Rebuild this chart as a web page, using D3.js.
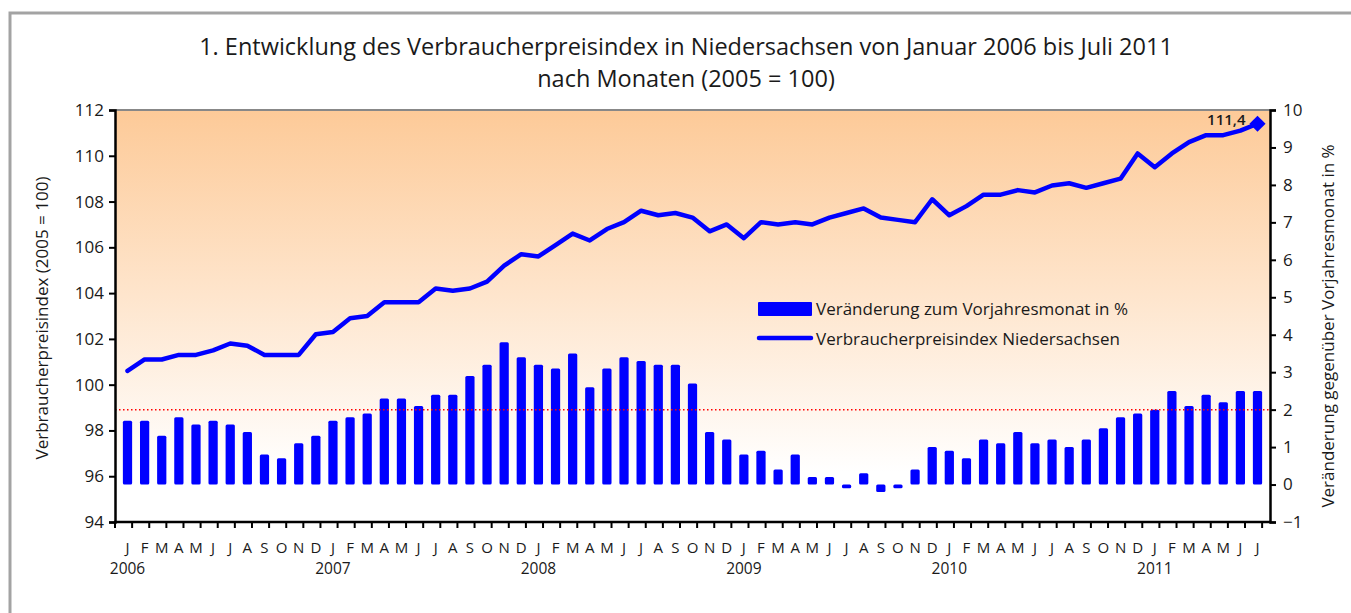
<!DOCTYPE html>
<html>
<head>
<meta charset="utf-8">
<script src="https://cdn.jsdelivr.net/npm/d3@7"></script>
<style>
  body { margin: 0; background: #fff; }
  svg text { font-family: "Open Sans", "Noto Sans", sans-serif; fill: #1a1a1a; }
</style>
</head>
<body>
<div id="chart"></div>
<script>
// Monate Jan 2006 - Jul 2011
var monthLetters = ["J","F","M","A","M","J","J","A","S","O","N","D"];
var years = ["2006","2007","2008","2009","2010","2011"];

// Veraenderung zum Vorjahresmonat in %
var change = [
  1.7, 1.7, 1.3, 1.8, 1.6, 1.7, 1.6, 1.4, 0.8, 0.7, 1.1, 1.3,
  1.7, 1.8, 1.9, 2.3, 2.3, 2.1, 2.4, 2.4, 2.9, 3.2, 3.8, 3.4,
  3.2, 3.1, 3.5, 2.6, 3.1, 3.4, 3.3, 3.2, 3.2, 2.7, 1.4, 1.2,
  0.8, 0.9, 0.4, 0.8, 0.2, 0.2, -0.1, 0.3, -0.2, -0.1, 0.4, 1.0,
  0.9, 0.7, 1.2, 1.1, 1.4, 1.1, 1.2, 1.0, 1.2, 1.5, 1.8, 1.9,
  2.0, 2.5, 2.1, 2.4, 2.2, 2.5, 2.5
];

// Verbraucherpreisindex Niedersachsen (2005 = 100)
var cpi = [
  100.6, 101.1, 101.1, 101.3, 101.3, 101.5, 101.8, 101.7, 101.3, 101.3, 101.3, 102.2,
  102.3, 102.9, 103.0, 103.6, 103.6, 103.6, 104.2, 104.1, 104.2, 104.5, 105.2, 105.7,
  105.6, 106.1, 106.6, 106.3, 106.8, 107.1, 107.6, 107.4, 107.5, 107.3, 106.7, 107.0,
  106.4, 107.1, 107.0, 107.1, 107.0, 107.3, 107.5, 107.7, 107.3, 107.2, 107.1, 108.1,
  107.4, 107.8, 108.3, 108.3, 108.5, 108.4, 108.7, 108.8, 108.6, 108.8, 109.0, 110.1,
  109.5, 110.1, 110.6, 110.9, 110.9, 111.1, 111.4
];

var leftTicks = [94, 96, 98, 100, 102, 104, 106, 108, 110, 112];
var rightTicks = [-1, 0, 1, 2, 3, 4, 5, 6, 7, 8, 9, 10];

var months = change.map(function(d, i) { return i; });

var W = 1351, H = 613;
var margin = {top: 110, right: 81, bottom: 91, left: 115};
var width = W - margin.left - margin.right,
    height = H - margin.top - margin.bottom;

var svgRoot = d3.select("#chart").append("svg")
  .attr("width", W)
  .attr("height", H);

// Rahmen
svgRoot.append("rect")
  .attr("x", 10).attr("y", 13)
  .attr("width", 1400).attr("height", 700)
  .attr("fill", "none")
  .attr("stroke", "#a3a3a3")
  .attr("stroke-width", 3);

// Titel
svgRoot.append("text")
  .attr("x", 686).attr("y", 55)
  .attr("text-anchor", "middle")
  .style("font-size", "23.5px")
  .text("1. Entwicklung des Verbraucherpreisindex in Niedersachsen von Januar 2006 bis Juli 2011");
svgRoot.append("text")
  .attr("x", 686).attr("y", 87)
  .attr("text-anchor", "middle")
  .style("font-size", "23.5px")
  .text("nach Monaten (2005 = 100)");

var defs = svgRoot.append("defs");
var grad = defs.append("linearGradient")
  .attr("id", "bg").attr("x1", 0).attr("y1", 0).attr("x2", 0).attr("y2", 1);
grad.append("stop").attr("offset", "0%").attr("stop-color", "#fdca98");
grad.append("stop").attr("offset", "88%").attr("stop-color", "#ffffff");
grad.append("stop").attr("offset", "100%").attr("stop-color", "#ffffff");

var svg = svgRoot.append("g")
  .attr("transform", "translate(" + margin.left + "," + margin.top + ")");

svg.append("rect")
  .attr("width", width).attr("height", height)
  .attr("fill", "url(#bg)");

// Skalen
var x = d3.scaleBand()
  .domain(months)
  .range([0, width])
  .padding(0.46);

var yLeft = d3.scaleLinear().domain([94, 112]).range([height, 0]);
var yRight = d3.scaleLinear().domain([-1, 10]).range([height, 0]);

// obere Linie
svg.append("line")
  .attr("x1", 0).attr("x2", width)
  .attr("y1", 0).attr("y2", 0)
  .attr("stroke", "#888").attr("stroke-width", 2);

// Balken
svg.selectAll(".bar")
  .data(change)
  .enter()
  .append("rect")
    .attr("class", "bar")
    .attr("x", function(d, i) { return x(i); })
    .attr("y", function(d) { return yRight(Math.max(0, d)); })
    .attr("width", x.bandwidth())
    .attr("height", function(d) { return Math.abs(yRight(d) - yRight(0)); })
    .attr("rx", 1.5)
    .attr("fill", "#0000ff");

// 2%-Linie
svg.append("line")
  .attr("x1", 0).attr("x2", width)
  .attr("y1", yRight(2)).attr("y2", yRight(2))
  .attr("stroke", "#ff0000")
  .attr("stroke-width", 1.5)
  .attr("stroke-dasharray", "1.5,2.5");

// Linie
var line = d3.line()
  .x(function(d, i) { return x(i) + x.bandwidth() / 2; })
  .y(function(d) { return yLeft(d); });

svg.append("path")
  .datum(cpi)
  .attr("fill", "none")
  .attr("stroke", "#0000ff")
  .attr("stroke-width", 4.5)
  .attr("stroke-linejoin", "round")
  .attr("stroke-linecap", "round")
  .attr("d", line);

// letzter Wert
var last = cpi.length - 1;
svg.append("path")
  .attr("d", d3.symbol().type(d3.symbolSquare).size(130)())
  .attr("transform", "translate(" + (x(last) + x.bandwidth() / 2) + "," + yLeft(cpi[last]) + ")rotate(45)")
  .attr("fill", "#0000ff");
svg.append("text")
  .attr("x", x(last) + x.bandwidth() / 2 - 12)
  .attr("y", yLeft(cpi[last]) + 1)
  .attr("text-anchor", "end")
  .style("font-size", "15px")
  .style("font-weight", "600")
  .text(String(cpi[last]).replace(".", ","));

// Achsen
var axL = svg.append("g")
  .call(d3.axisLeft(yLeft).tickValues(leftTicks).tickSize(6).tickPadding(5));
var axR = svg.append("g")
  .attr("transform", "translate(" + width + ",0)")
  .call(d3.axisRight(yRight).tickValues(rightTicks).tickSize(6).tickPadding(7));
[axL, axR].forEach(function(a) {
  a.select(".domain").attr("stroke", "#000").attr("stroke-width", 2.5);
  a.selectAll(".tick line").attr("stroke", "#000").attr("stroke-width", 2);
  a.selectAll(".tick text").style("font-size", "17px").attr("fill", "#1a1a1a");
});

// x-Achse mit Monatsgrenzen
var boundaries = months.concat([months.length]);
var xPos = function(i) { return i * x.step(); };
var axB = svg.append("g").attr("transform", "translate(0," + height + ")");
axB.append("line")
  .attr("x1", -1).attr("x2", width + 1)
  .attr("stroke", "#000").attr("stroke-width", 2.5);
axB.selectAll(".btick")
  .data(boundaries)
  .enter()
  .append("line")
    .attr("x1", function(d) { return xPos(d); })
    .attr("x2", function(d) { return xPos(d); })
    .attr("y1", 0).attr("y2", 6)
    .attr("stroke", "#000").attr("stroke-width", 2);

axB.selectAll(".mlabel")
  .data(months)
  .enter()
  .append("text")
    .attr("x", function(d) { return x(d) + x.bandwidth() / 2; })
    .attr("y", 31)
    .attr("text-anchor", "middle")
    .style("font-size", "15px")
    .text(function(d) { return monthLetters[d % 12]; });

axB.selectAll(".ylabel")
  .data(years)
  .enter()
  .append("text")
    .attr("x", function(d, i) { return x(i * 12) + x.bandwidth() / 2; })
    .attr("y", 52)
    .attr("text-anchor", "middle")
    .style("font-size", "15.5px")
    .text(function(d) { return d; });

// Achsentitel
svgRoot.append("text")
  .attr("transform", "translate(48," + 318 + ")rotate(-90)")
  .attr("text-anchor", "middle")
  .style("font-size", "17px")
  .text("Verbraucherpreisindex (2005 = 100)");
svgRoot.append("text")
  .attr("transform", "translate(1334," + 326 + ")rotate(-90)")
  .attr("text-anchor", "middle")
  .style("font-size", "17px")
  .text("Veränderung gegenüber Vorjahresmonat in %");

// Legende
var leg = svgRoot.append("g").attr("transform", "translate(758,0)");
leg.append("rect")
  .attr("x", 0).attr("y", 302)
  .attr("width", 54).attr("height", 14)
  .attr("rx", 1)
  .attr("fill", "#0000ff");
leg.append("text")
  .attr("x", 58).attr("y", 315)
  .style("font-size", "17px")
  .text("Veränderung zum Vorjahresmonat in %");
leg.append("line")
  .attr("x1", 1).attr("x2", 53)
  .attr("y1", 338).attr("y2", 338)
  .attr("stroke", "#0000ff")
  .attr("stroke-width", 4.5)
  .attr("stroke-linecap", "round");
leg.append("text")
  .attr("x", 58).attr("y", 345)
  .style("font-size", "17px")
  .text("Verbraucherpreisindex Niedersachsen");
</script>
</body>
</html>
